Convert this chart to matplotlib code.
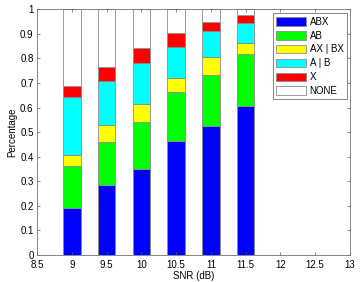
import numpy as np
import matplotlib
matplotlib.use('Agg')
import matplotlib.pyplot as plt

plt.rcParams['font.family'] = ['Liberation Sans', 'DejaVu Sans']

# --- data ---
snr = [9.0, 9.5, 10.0, 10.5, 11.0, 11.5]
abx = [0.192, 0.285, 0.349, 0.465, 0.525, 0.607]
ab = [0.170, 0.175, 0.191, 0.198, 0.208, 0.213]
ax_bx = [0.043, 0.067, 0.074, 0.059, 0.072, 0.043]
a_or_b = [0.237, 0.180, 0.169, 0.125, 0.105, 0.081]
x_only = [0.045, 0.057, 0.060, 0.058, 0.038, 0.031]
none = list(1.0 - np.sum([abx, ab, ax_bx, a_or_b, x_only], axis=0))

labels = ['ABX', 'AB', 'AX | BX', 'A | B', 'X', 'NONE']
colors = ['#0000ff', '#00ff00', '#ffff00', '#00ffff', '#ff0000', '#ffffff']
series = [abx, ab, ax_bx, a_or_b, x_only, none]

xticks = [8.5, 9, 9.5, 10, 10.5, 11, 11.5, 12, 12.5, 13]
yticks = np.round(np.arange(0, 1.01, 0.1), 1)

fig = plt.figure(figsize=(3.6, 2.82), dpi=100)
ax = fig.add_axes([0.103, 0.096, 0.869, 0.871])

bottom = np.zeros(len(snr))
for vals, col, lab in zip(series, colors, labels):
    ax.bar(snr, vals, width=0.25, bottom=bottom, color=col,
           edgecolor='0.55', linewidth=0.6, label=lab)
    bottom += np.array(vals)

ax.set_xlim(8.5, 13)
ax.set_ylim(0, 1)
ax.set_xticks(xticks)
ax.set_xticklabels(['%g' % t for t in xticks])
ax.set_yticks(yticks)
ax.set_yticklabels(['%g' % t for t in yticks])
ax.tick_params(direction='in', length=2, width=0.5, labelsize=7,
               top=True, right=True, colors='0.35', labelcolor='black')
ax.tick_params(axis='x', pad=3.5)
ax.tick_params(axis='y', pad=2.5)
for s in ax.spines.values():
    s.set_color('0.45')
    s.set_linewidth(0.6)

ax.set_xlabel('SNR (dB)', fontsize=7, labelpad=1)
ax.set_ylabel('Percentage', fontsize=7, labelpad=2)

leg = ax.legend(loc='upper right', fontsize=7, frameon=True, fancybox=False,
                handlelength=3.0, handleheight=1.0, borderpad=0.35,
                labelspacing=0.4, handletextpad=0.4, borderaxespad=0,
                bbox_to_anchor=(0.99, 0.984))
leg.get_frame().set_edgecolor('0.3')
leg.get_frame().set_linewidth(0.6)

fig.savefig('out.png', dpi=100)
